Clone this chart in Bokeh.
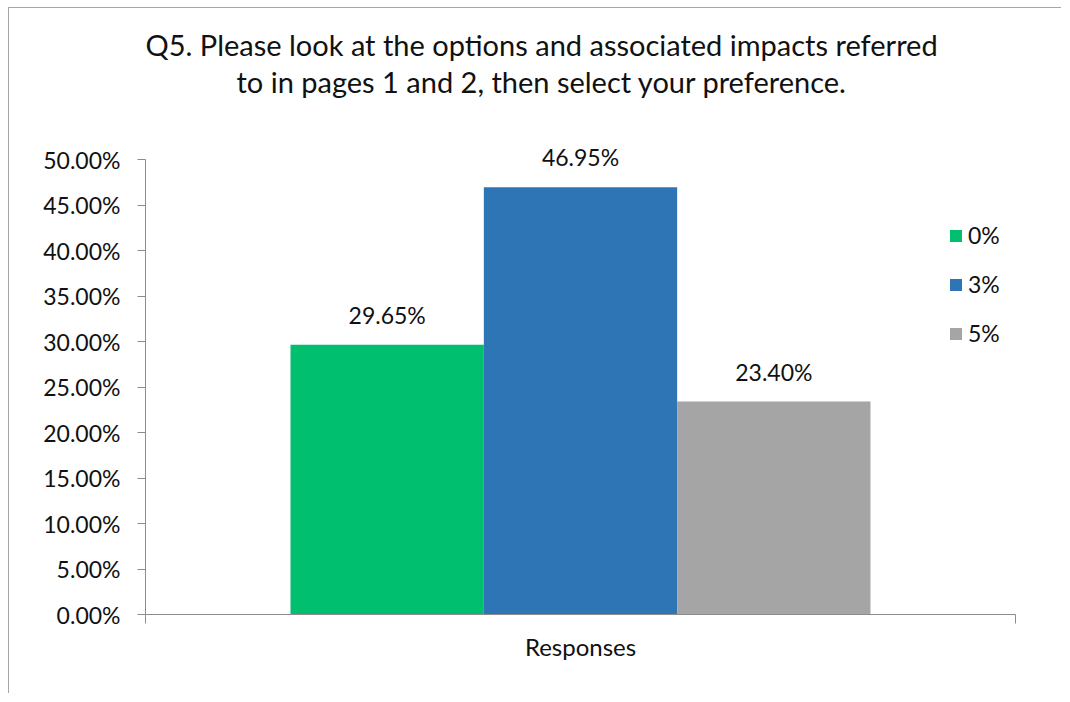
from bokeh.plotting import figure
from bokeh.models import (ColumnDataSource, Range1d, FixedTicker, NumeralTickFormatter, Title)
from bokeh.core.properties import value
from bokeh.embed import file_html
from bokeh.resources import INLINE

# ---- data ----
title_lines = ["Q5. Please look at the options and associated impacts referred",
               "to in pages 1 and 2, then select your preference."]
categories = ["Responses"]
series = ["0%", "3%", "5%"]
shares = [0.2965, 0.4695, 0.2340]
colors = ["#00BF6F", "#2E75B6", "#A5A5A5"]
y_ticks = [0.0, 0.05, 0.10, 0.15, 0.20, 0.25, 0.30, 0.35, 0.40, 0.45, 0.50]

FONT = "Lato"
TEXT = "#111111"
AXIS = "#8C8C8C"

# axis runs 0..50% over 455 px; the (invisible) frame is a little taller so the
# top data label is not clipped
axis_max = 0.5
y_end = axis_max * 482 / 455

n_cat = len(categories)
p = figure(width=1053, height=686, x_range=Range1d(0, n_cat), y_range=Range1d(0, y_end),
           output_backend="svg", toolbar_location=None,
           min_border_left=136, min_border_right=47, min_border_top=124, min_border_bottom=80)
p.styles = {"margin-left": "8px", "margin-top": "7px",
            "border-left": "1px solid #A6A6A6", "border-top": "1px solid #A6A6A6"}
p.outline_line_color = None
p.xgrid.visible = False
p.ygrid.visible = False

# each category occupies one unit; bars fill the middle two thirds of it
group_w = 2 / 3
bar_w = group_w / len(series)
cat_centers = [k + 0.5 for k in range(n_cat)]
for i, name in enumerate(series):
    xs = [c - group_w / 2 + bar_w * (i + 0.5) for c in cat_centers]
    src = ColumnDataSource(dict(x=xs, share=[shares[i]],
                                label=[f"{shares[i] * 100:.2f}%"]))
    p.vbar(x="x", top="share", width=bar_w, source=src,
           fill_color=colors[i], line_color=None, legend_label=name)
    p.text(x="x", y="share", text="label", source=src,
           text_align="center", text_baseline="alphabetic", y_offset=-30,
           text_font=value(FONT), text_font_size="23px", text_color=TEXT)

# y axis
ya = p.yaxis[0]
ya.ticker = FixedTicker(ticks=y_ticks)
ya.bounds = (0, axis_max)
ya.formatter = NumeralTickFormatter(format="0.00%")
ya.major_tick_out = 8
ya.major_tick_in = 0
ya.minor_tick_line_color = None
ya.axis_line_color = AXIS
ya.major_tick_line_color = AXIS
ya.major_label_standoff = 17
ya.major_label_text_font = FONT
ya.major_label_text_font_size = "23px"
ya.major_label_text_color = TEXT

# x axis: ticks at category boundaries, label at category centre
xa = p.xaxis[0]
xa.ticker = FixedTicker(ticks=cat_centers, minor_ticks=list(range(n_cat + 1)))
xa.major_label_overrides = {c: lab for c, lab in zip(cat_centers, categories)}
xa.axis_line_color = AXIS
xa.major_tick_line_color = None
xa.major_tick_out = 0
xa.major_tick_in = 0
xa.minor_tick_line_color = AXIS
xa.minor_tick_out = 9
xa.minor_tick_in = 0
xa.major_label_standoff = 8
xa.major_label_text_font = FONT
xa.major_label_text_font_size = "24px"
xa.major_label_text_color = TEXT

# legend
lg = p.legend[0]
lg.location = (803, 267)
lg.padding = 0
lg.margin = 0
lg.border_line_color = None
lg.background_fill_alpha = 0
lg.glyph_width = 15
lg.glyph_height = 15
lg.label_standoff = 5
lg.spacing = 21
lg.label_text_font = FONT
lg.label_text_font_size = "23px"
lg.label_text_color = TEXT

# two-line title; "above" panels stack outward from the frame
spacer = Title(text=" ", standoff=20, text_font=FONT, text_font_size="10px")
t2 = Title(text=title_lines[1], align="left", offset=91, standoff=0, text_font=FONT,
           text_font_size="29px", text_font_style="normal", text_color=TEXT)
t1 = Title(text=title_lines[0], align="left", offset=0, standoff=0, text_font=FONT,
           text_font_size="29px", text_font_style="normal", text_color=TEXT)
p.add_layout(spacer, "above")
p.add_layout(t2, "above")
p.add_layout(t1, "above")

open("out.html", "w").write(file_html(p, INLINE))
